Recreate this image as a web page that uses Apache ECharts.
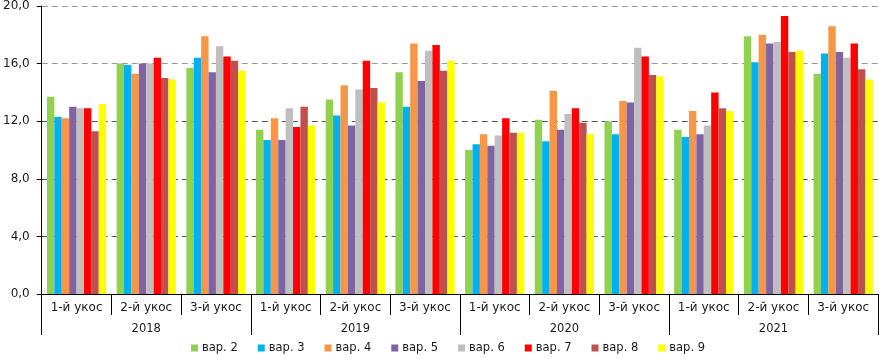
<!DOCTYPE html>
<html>
<head>
<meta charset="utf-8">
<script src="https://cdn.jsdelivr.net/npm/echarts@6/dist/echarts.min.js"></script>
<style>html,body{margin:0;padding:0;background:#fff}#c{width:879px;height:359px}</style>
</head>
<body>
<div id="c"></div>
<script>
const cuts = ['1-й укос','2-й укос','3-й укос','1-й укос','2-й укос','3-й укос','1-й укос','2-й укос','3-й укос','1-й укос','2-й укос','3-й укос'];
const years = ['2018','2019','2020','2021'];
const seriesNames = ['вар. 2','вар. 3','вар. 4','вар. 5','вар. 6','вар. 7','вар. 8','вар. 9'];
const colors = ['#92D050','#00B0F0','#F79646','#8064A2','#BFBFBF','#FF0000','#C0504D','#FFFF00'];
const var2 = [13.7,16.0,15.7,11.4,13.5,15.4,10.0,12.1,12.0,11.4,17.9,15.3];
const var3 = [12.3,15.9,16.4,10.7,12.4,13.0,10.4,10.6,11.1,10.9,16.1,16.7];
const var4 = [12.2,15.3,17.9,12.2,14.5,17.4,11.1,14.1,13.4,12.7,18.0,18.6];
const var5 = [13.0,16.0,15.4,10.7,11.7,14.8,10.3,11.4,13.3,11.1,17.4,16.8];
const var6 = [12.9,16.0,17.2,12.9,14.2,16.9,11.0,12.5,17.1,11.7,17.5,16.4];
const var7 = [12.9,16.4,16.5,11.6,16.2,17.3,12.2,12.9,16.5,14.0,19.3,17.4];
const var8 = [11.3,15.0,16.2,13.0,14.3,15.5,11.2,11.9,15.2,12.9,16.8,15.6];
const var9 = [13.2,14.9,15.5,11.7,13.3,16.2,11.2,11.1,15.1,12.7,16.9,14.9];
const allValues = [var2,var3,var4,var5,var6,var7,var8,var9];

const chart = echarts.init(document.getElementById('c'));
const font = 'DejaVu Sans';
chart.setOption({
  animation: false,
  grid: {left: 41, right: 1, top: 4, bottom: 65, containLabel: false},
  legend: {
    bottom: 0, left: 186, icon: 'rect', itemWidth: 7, itemHeight: 7, itemGap: 20,
    textStyle: {fontFamily: font, fontSize: 11.5, color: '#1a1a1a', padding: [0, 0, 0, -1]},
    data: seriesNames
  },
  xAxis: [
    {
      type: 'category', data: cuts, position: 'bottom',
      axisLine: {show: true, lineStyle: {color: '#000', width: 1}},
      axisTick: {show: true, length: 21, interval: 0, lineStyle: {color: '#000'}},
      axisLabel: {interval: 0, margin: 8, fontFamily: font, fontSize: 12, color: '#1a1a1a'}
    },
    {
      type: 'category', data: years, position: 'bottom',
      axisLine: {show: false},
      axisTick: {show: true, length: 41, interval: 0, lineStyle: {color: '#000'}},
      axisLabel: {interval: 0, margin: 29, fontFamily: font, fontSize: 11.5, color: '#1a1a1a'}
    }
  ],
  yAxis: {
    type: 'value', min: 0, max: 20, interval: 4,
    axisLine: {show: true, lineStyle: {color: '#000'}},
    axisTick: {show: true, length: 5, lineStyle: {color: '#000'}},
    axisLabel: {margin: 12, fontFamily: font, fontSize: 12, color: '#1a1a1a',
      formatter: v => v.toFixed(1).replace('.', ',')},
    splitLine: {show: true, lineStyle: {type: [6, 4], width: 1,
      color: ['#555','#555','#555','#555','#999','#999']}}
  },
  series: seriesNames.map((n, i) => ({
    name: n, type: 'bar', xAxisIndex: 0, data: allValues[i],
    itemStyle: {color: colors[i]},
    barGap: '0%', barCategoryGap: '15%'
  }))
});
</script>
</body>
</html>
